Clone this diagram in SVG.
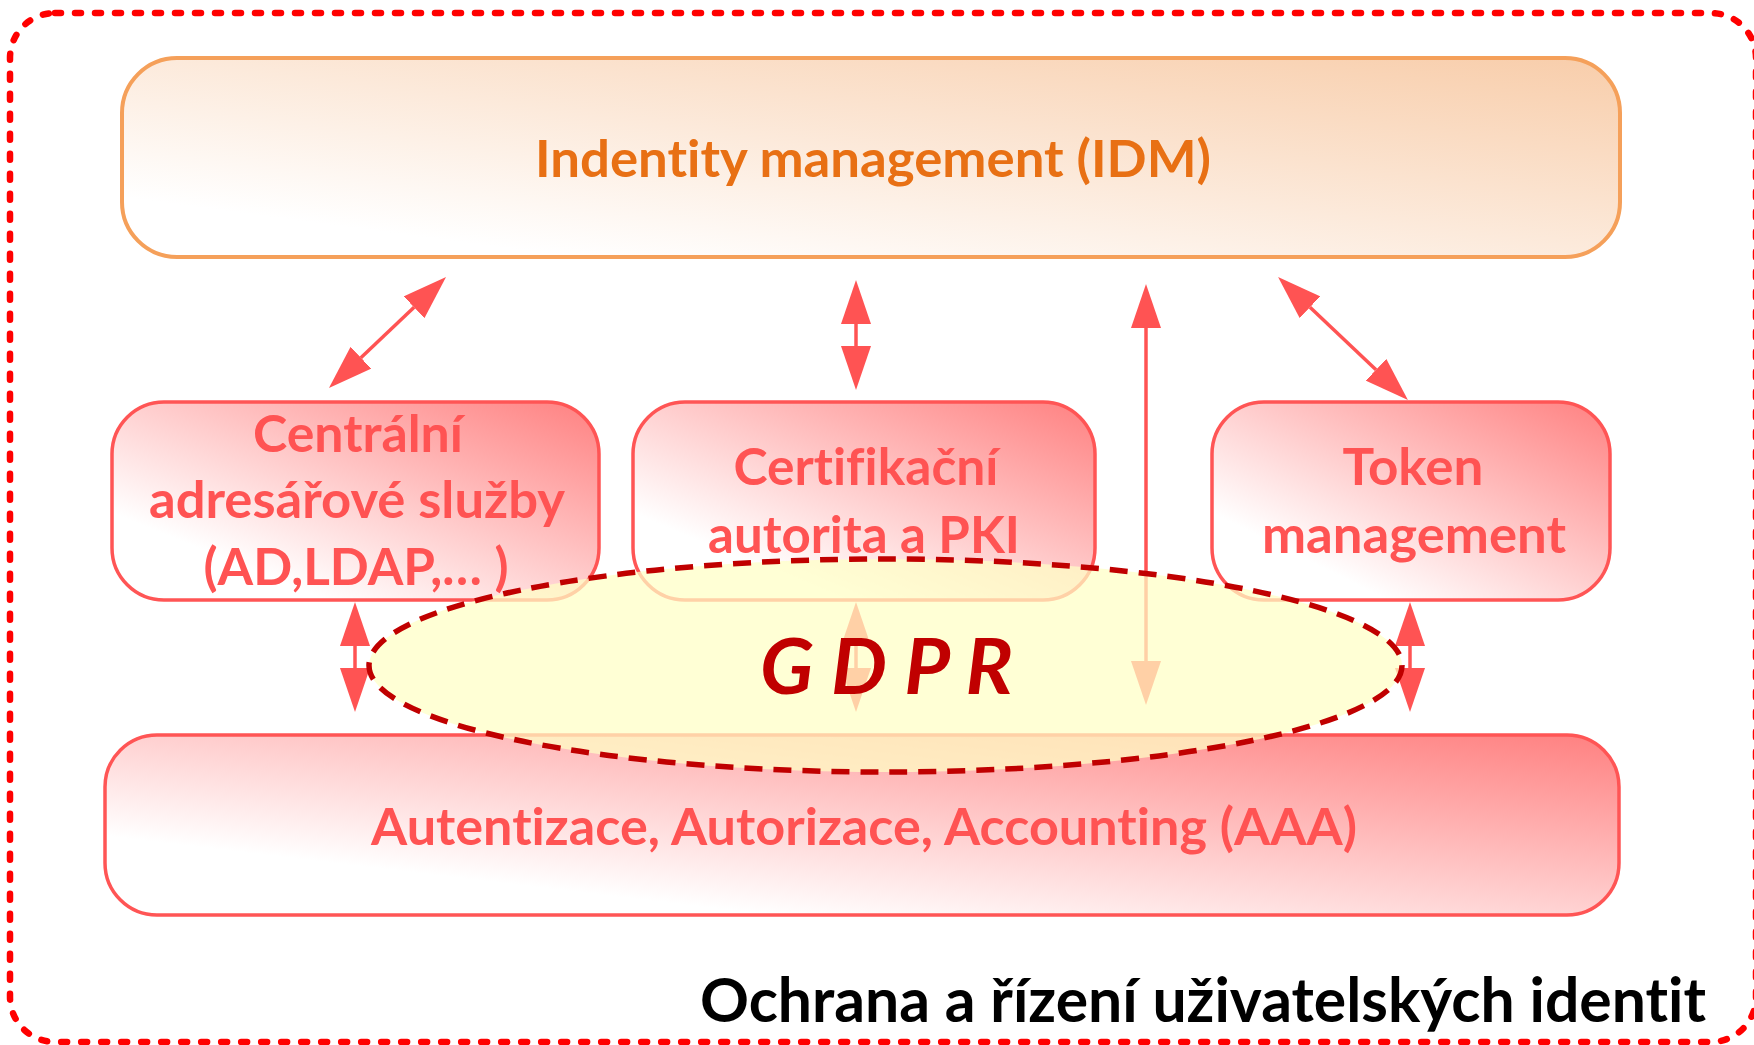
<svg xmlns="http://www.w3.org/2000/svg" width="1754" height="1045" viewBox="0 0 1754 1045">
  <style>
    text { font-variant-ligatures: none; }
    .lbl { font-family: Lato, "Open Sans", "Liberation Sans", sans-serif; font-weight: bold; text-anchor: middle; }
    .red { fill: #FF5353; font-size: 51px; }
    .rbox { stroke: #FF5555; stroke-width: 3.5; fill: url(#gRed); }
    .conn { stroke: #FF5353; stroke-width: 3.5; fill: none; marker-start: url(#head); marker-end: url(#head); }
  </style>
  <defs>
    <linearGradient id="gRed" x1="0" y1="1" x2="1" y2="0">
      <stop offset="0" stop-color="#FFFFFF"/>
      <stop offset="0.22" stop-color="#FFFFFF"/>
      <stop offset="1" stop-color="#FF8080"/>
    </linearGradient>
    <linearGradient id="gOrange" x1="0" y1="1" x2="1" y2="0">
      <stop offset="0" stop-color="#FFFFFF"/>
      <stop offset="0.15" stop-color="#FFFFFF"/>
      <stop offset="1" stop-color="#F8CDAA"/>
    </linearGradient>
    <marker id="head" viewBox="0 -15 44 30" refX="0" refY="0" markerWidth="44" markerHeight="30" markerUnits="userSpaceOnUse" orient="auto-start-reverse">
      <path d="M0,-15 L44,0 L0,15 z" fill="#FF5353"/>
    </marker>
  </defs>

  <g id="outer-frame">
    <rect x="10" y="13" width="1746" height="1029" rx="45" ry="45" fill="none" stroke="#FF0000" stroke-width="6.5" stroke-dasharray="6 14" stroke-linecap="round"/>
  </g>

  <g id="node-idm">
    <rect x="122" y="58" width="1498" height="199" rx="55" ry="55" fill="url(#gOrange)" stroke="#F5A05A" stroke-width="4"/>
    <text class="lbl" x="873" y="177" font-size="51" fill="#E87014" textLength="676" lengthAdjust="spacingAndGlyphs">Indentity management (IDM)</text>
  </g>

  <g id="node-central">
    <rect class="rbox" x="112" y="402" width="487" height="198" rx="52" ry="52"/>
    <text class="lbl red" x="358" y="452" textLength="210" lengthAdjust="spacingAndGlyphs">Centrální</text>
    <text class="lbl red" x="357" y="518" textLength="416" lengthAdjust="spacingAndGlyphs">adresářové služby</text>
    <text class="lbl red" x="356" y="585" textLength="305" lengthAdjust="spacingAndGlyphs">(AD,LDAP,… )</text>
  </g>

  <g id="node-cert">
    <rect class="rbox" x="633" y="402" width="462" height="198" rx="52" ry="52"/>
    <text class="lbl red" x="866" y="485" textLength="265" lengthAdjust="spacingAndGlyphs">Certifikační</text>
    <text class="lbl red" x="864" y="553" textLength="312" lengthAdjust="spacingAndGlyphs">autorita a PKI</text>
  </g>

  <g id="node-token">
    <rect class="rbox" x="1212" y="402" width="398" height="198" rx="52" ry="52"/>
    <text class="lbl red" x="1413" y="485" textLength="141" lengthAdjust="spacingAndGlyphs">Token</text>
    <text class="lbl red" x="1414" y="553" textLength="304" lengthAdjust="spacingAndGlyphs">management</text>
  </g>

  <g id="node-aaa">
    <rect class="rbox" x="105" y="735" width="1514" height="180" rx="52" ry="52"/>
    <text class="lbl red" x="864" y="845" textLength="986" lengthAdjust="spacingAndGlyphs">Autentizace, Autorizace, Accounting (AAA)</text>
  </g>

  <g id="connectors">
    <line class="conn" x1="414.1" y1="307.3" x2="360.9" y2="357.7"/>
    <line class="conn" x1="856" y1="324" x2="856" y2="346"/>
    <line class="conn" x1="1146" y1="328" x2="1146" y2="661"/>
    <line class="conn" x1="1310" y1="307.2" x2="1376" y2="369.8"/>
    <line class="conn" x1="355" y1="646" x2="355" y2="668"/>
    <line class="conn" x1="856" y1="646" x2="856" y2="668"/>
    <line class="conn" x1="1410" y1="646" x2="1410" y2="668"/>
  </g>

  <g id="node-gdpr">
    <ellipse cx="885.5" cy="665.5" rx="516.5" ry="106.5" fill="#FFFFC5" fill-opacity="0.73" stroke="#C00000" stroke-width="5.5" stroke-dasharray="18 11"/>
    <text class="lbl" x="886.5" y="694" font-size="76" font-style="italic" font-weight="900" fill="#C00000" textLength="253" lengthAdjust="spacingAndGlyphs">G D P R</text>
  </g>

  <g id="title">
    <text x="1706" y="1022" font-family="Lato, 'Open Sans', 'Liberation Sans', sans-serif" font-weight="bold" font-size="61" fill="#000000" text-anchor="end" textLength="1006" lengthAdjust="spacingAndGlyphs">Ochrana a řízení uživatelských identit</text>
  </g>
</svg>
